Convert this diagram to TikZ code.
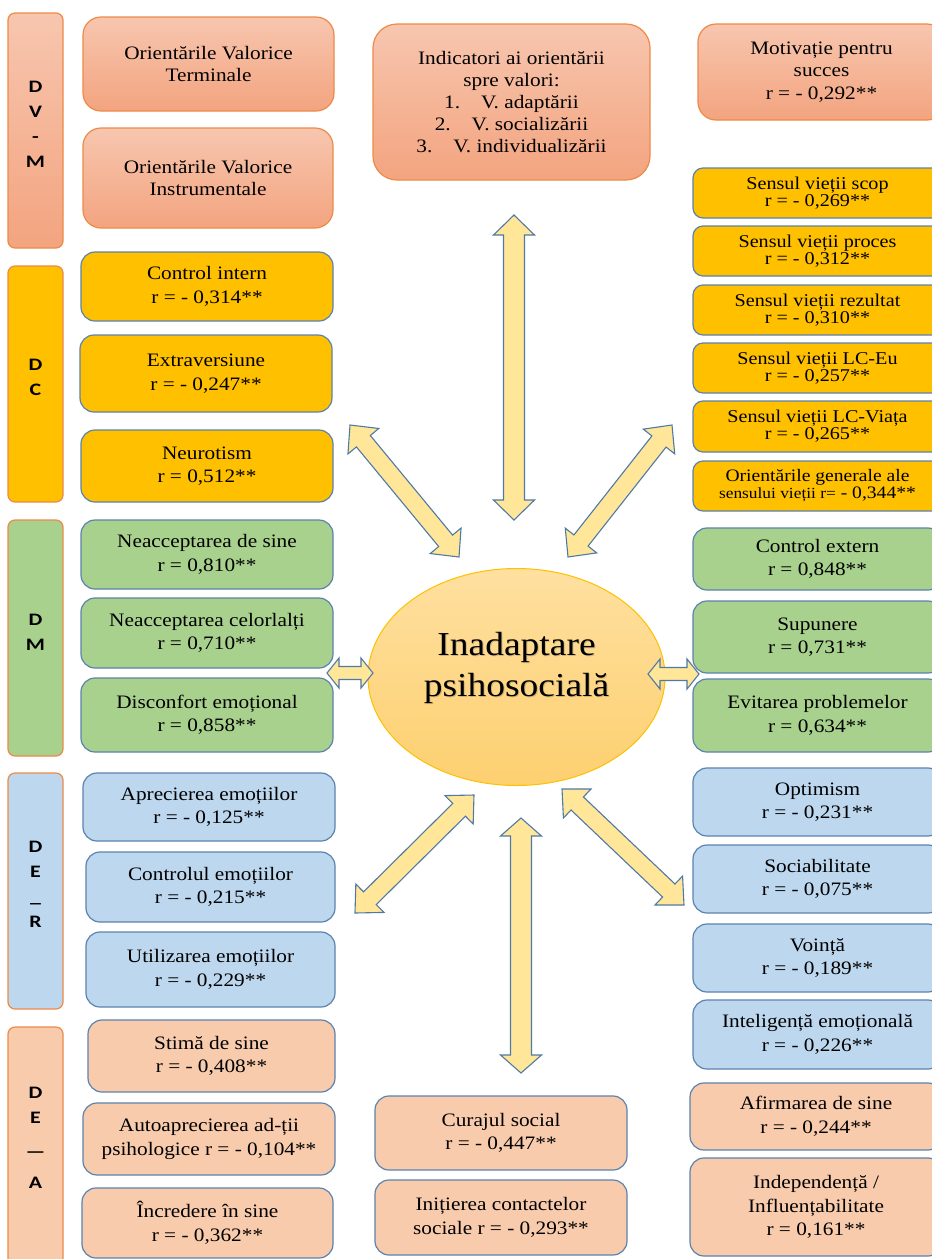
\documentclass[tikz,border=0pt]{standalone}
\usepackage{fontspec}
\setmainfont{Liberation Serif}[FakeStretch=1.12]
\newfontfamily\sidefont{Carlito}[FakeStretch=1.25]
\usetikzlibrary{calc,shapes.geometric}

\definecolor{peachTop}{HTML}{F7C6AF}
\definecolor{peachBot}{HTML}{F3A47F}
\definecolor{orangeEdge}{HTML}{EE8A48}
\definecolor{goldFill}{HTML}{FFC000}
\definecolor{greenFill}{HTML}{A9D18E}
\definecolor{blueFill}{HTML}{BDD7EE}
\definecolor{salmonFill}{HTML}{F8CBAD}
\definecolor{slateEdge}{HTML}{5B83AE}
\definecolor{arrowFill}{HTML}{FFE699}
\definecolor{arrowEdge}{HTML}{4F7AA6}
\definecolor{ovalTop}{HTML}{FFE0A0}
\definecolor{ovalBot}{HTML}{FDD070}
\definecolor{ovalEdge}{HTML}{FFC000}

% rectangle node given by its corners: name, x1, y1, x2, y2, style, text
\newcommand\boxat[7]{%
  \node[#6, minimum width={(#4-#2)*1pt}, minimum height={(#5-#3)*1pt}]
    (#1) at ({(#2+#4)/2},{(#3+#5)/2}) {#7};}

% double-headed block arrow between two named points:
% from, to, shaft half-width, head half-width, head length
\newcommand\dblarrow[5]{%
  \draw[arrowshape] (#1)
    -- ($(#1)!#5!(#2)!#4!90:(#2)$)
    -- ($(#1)!#5!(#2)!#3!90:(#2)$)
    -- ($(#2)!#5!(#1)!#3!-90:(#1)$)
    -- ($(#2)!#5!(#1)!#4!-90:(#1)$)
    -- (#2)
    -- ($(#2)!#5!(#1)!#4!90:(#1)$)
    -- ($(#2)!#5!(#1)!#3!90:(#1)$)
    -- ($(#1)!#5!(#2)!#3!-90:(#2)$)
    -- ($(#1)!#5!(#2)!#4!-90:(#2)$)
    -- cycle;}

\tikzset{
  card/.style={draw=slateEdge, line width=1.2pt, rounded corners=14pt,
    align=center, inner sep=2pt, text=black,
    font=\fontsize{19}{23.5}\selectfont},
  cardGold/.style={card, fill=goldFill},
  cardGreen/.style={card, fill=greenFill},
  cardBlue/.style={card, fill=blueFill},
  cardSalmon/.style={card, fill=salmonFill},
  cardPeach/.style={card, draw=orangeEdge, top color=peachTop,
    bottom color=peachBot, rounded corners=18pt},
  cardSense/.style={cardGold, rounded corners=10pt,
    font=\fontsize{18}{14}\selectfont},
  sidebar/.style={draw=orangeEdge, line width=1.2pt, rounded corners=7pt},
  sideletters/.style={font=\sidefont\bfseries\fontsize{17.5}{25}\selectfont,
    align=center, inner sep=0pt},
  arrowshape/.style={fill=arrowFill, draw=arrowEdge, line width=1.1pt,
    line join=miter},
}

\begin{document}
\begin{tikzpicture}[x=1pt, y=-1pt]
\useasboundingbox (0,0) rectangle (932,1259);
\clip (0,0) rectangle (932,1259);
\fill[white] (0,0) rectangle (932,1259);

% ---- group bars on the left
\boxat{sDVM}{8}{13}{63}{248}{sidebar, top color=peachTop, bottom color=peachBot}{}
\boxat{sDC}{8}{266}{63}{502}{sidebar, fill=goldFill}{}
\boxat{sDM}{8}{520}{63}{756}{sidebar, fill=greenFill}{}
\boxat{sDER}{8}{773}{63}{1009}{sidebar, fill=blueFill}{}
\boxat{sDEA}{8}{1027}{63}{1280}{sidebar, fill=salmonFill}{}

\node[sideletters] (lDVM) at (35.5,124) {D\\V\\-\\M};
\node[sideletters] (lDC) at (35.5,377.5) {D\\C};
\node[sideletters] (lDM) at (35.5,632.5) {D\\M};
\node[sideletters] (lDER) at (35.5,884.5) {D\\E\\\_\\R};
\node[sideletters] (lDEA) at (35.5,1138) {D\\E\\[9pt]—\\[6pt]A};

% ---- value orientations
\boxat{ovt}{83}{17}{334}{111}{cardPeach, font=\fontsize{19}{21.5}\selectfont}{Orientările Valorice\\Terminale}
\boxat{ovi}{83}{128}{333}{228}{cardPeach, font=\fontsize{19}{21.5}\selectfont}{Orientările Valorice\\Instrumentale}
\boxat{ind}{373}{24}{650}{180}{cardPeach, rounded corners=24pt, font=\fontsize{19}{22}\selectfont}{Indicatori ai orientării\\spre valori:\\1.\hspace{1.1em}V. adaptării\\2.\hspace{1.1em}V. socializării\\3.\hspace{1.1em}V. individualizării}
\boxat{mot}{698}{24}{945}{120}{cardPeach, font=\fontsize{19}{22.5}\selectfont}{Motivație pentru\\succes\\r = - 0,292**}

% ---- left column
\boxat{ci}{81}{252}{333}{321}{cardGold}{Control intern\\r = - 0,314**}
\boxat{ex}{80}{335}{332}{412}{cardGold}{Extraversiune\\r = - 0,247**}
\boxat{ne}{81}{430}{333}{502}{cardGold}{Neurotism\\r = 0,512**}
\boxat{nds}{81}{520}{333}{589}{cardGreen}{Neacceptarea de sine\\r = 0,810**}
\boxat{ncel}{81}{598}{333}{668}{cardGreen}{Neacceptarea celorlalți\\r = 0,710**}
\boxat{disc}{81}{678}{333}{752}{cardGreen}{Disconfort emoțional\\r = 0,858**}
\boxat{apr}{83}{773}{335}{841}{cardBlue}{Aprecierea emoțiilor\\r = - 0,125**}
\boxat{ctrl}{86}{852}{335}{922}{cardBlue}{Controlul emoțiilor\\r = - 0,215**}
\boxat{util}{86}{932}{335}{1007}{cardBlue}{Utilizarea emoțiilor\\r = - 0,229**}
\boxat{stima}{88}{1020}{335}{1092}{cardSalmon}{Stimă de sine\\r = - 0,408**}
\boxat{auto}{83}{1103}{335}{1175}{cardSalmon}{Autoaprecierea ad-ții\\psihologice r = - 0,104**}
\boxat{incr}{82}{1188}{333}{1258}{cardSalmon}{Încredere în sine\\r = - 0,362**}

% ---- right column
\boxat{sv1}{693}{168}{942}{218}{cardSense}{Sensul vieții scop\\r = - 0,269**}
\boxat{sv2}{693}{226}{942}{276}{cardSense}{Sensul vieții proces\\r = - 0,312**}
\boxat{sv3}{693}{285}{942}{335}{cardSense}{Sensul vieții rezultat\\r = - 0,310**}
\boxat{sv4}{693}{343}{942}{393}{cardSense}{Sensul vieții LC-Eu\\r = - 0,257**}
\boxat{sv5}{693}{401}{942}{452}{cardSense}{Sensul vieții LC-Viața\\r = - 0,265**}
\boxat{sv6}{693}{461}{942}{511}{cardSense, font=\fontsize{17.5}{17}\selectfont}{Orientările generale ale\\{\fontsize{15.5}{17}\selectfont sensului vieții r=} - 0,344**}
\boxat{cext}{693}{528}{942}{590}{cardGreen}{Control extern\\r = 0,848**}
\boxat{sup}{693}{601}{942}{673}{cardGreen}{Supunere\\r = 0,731**}
\boxat{evit}{693}{679}{942}{752}{cardGreen}{Evitarea problemelor\\r = 0,634**}
\boxat{opt}{693}{768}{942}{836}{cardBlue}{Optimism\\r = - 0,231**}
\boxat{soc}{693}{845}{942}{913}{cardBlue}{Sociabilitate\\r = - 0,075**}
\boxat{voi}{693}{924}{942}{992}{cardBlue}{Voință\\r = - 0,189**}
\boxat{intel}{693}{1000}{942}{1069}{cardBlue}{Inteligență emoțională\\r = - 0,226**}
\boxat{afir}{690}{1083}{942}{1150}{cardSalmon}{Afirmarea de sine\\r = - 0,244**}
\boxat{indep}{690}{1158}{942}{1256}{cardSalmon}{Independență /\\Influențabilitate\\r = 0,161**}

% ---- bottom middle
\boxat{cur}{375}{1096}{627}{1170}{cardSalmon}{Curajul social\\r = - 0,447**}
\boxat{init}{375}{1180}{627}{1255}{cardSalmon}{Inițierea contactelor\\sociale r = - 0,293**}

% ---- central ellipse
\node[ellipse, draw=ovalEdge, line width=1pt, top color=ovalTop,
  bottom color=ovalBot, minimum width=297pt, minimum height=217pt]
  (core) at (516.5,677) {};
\node[font=\fontsize{33.5}{41}\selectfont, align=center, text=black!70,
  opacity=0.25] (coreShadow) at (517.5,669) {Inadaptare\\psihosocială};
\node[font=\fontsize{33.5}{41}\selectfont, align=center]
  (coreText) at (516.5,667.5) {Inadaptare\\psihosocială};

% ---- arrow end points
\coordinate (tN1) at (514,215);  \coordinate (tN2) at (514,520);
\coordinate (tW1) at (350,425);  \coordinate (tW2) at (459,557);
\coordinate (tE1) at (672,425);  \coordinate (tE2) at (568,557);
\coordinate (mW1) at (327,673);  \coordinate (mW2) at (373,673);
\coordinate (mE1) at (648,674);  \coordinate (mE2) at (699,674);
\coordinate (bW1) at (355,913);  \coordinate (bW2) at (474,795);
\coordinate (bE1) at (562,789);  \coordinate (bE2) at (684,905);
\coordinate (bS1) at (521,818);  \coordinate (bS2) at (521,1073);

\dblarrow{tN1}{tN2}{10.5pt}{20.5pt}{20pt}
\dblarrow{tW1}{tW2}{9pt}{20pt}{21pt}
\dblarrow{tE1}{tE2}{9pt}{20pt}{21pt}
\dblarrow{mW1}{mW2}{6.5pt}{15pt}{12pt}
\dblarrow{mE1}{mE2}{6.5pt}{15pt}{12pt}
\dblarrow{bW1}{bW2}{9pt}{20pt}{21pt}
\dblarrow{bE1}{bE2}{9pt}{20pt}{21pt}
\dblarrow{bS1}{bS2}{10.5pt}{20.5pt}{18pt}
\end{tikzpicture}
\end{document}
